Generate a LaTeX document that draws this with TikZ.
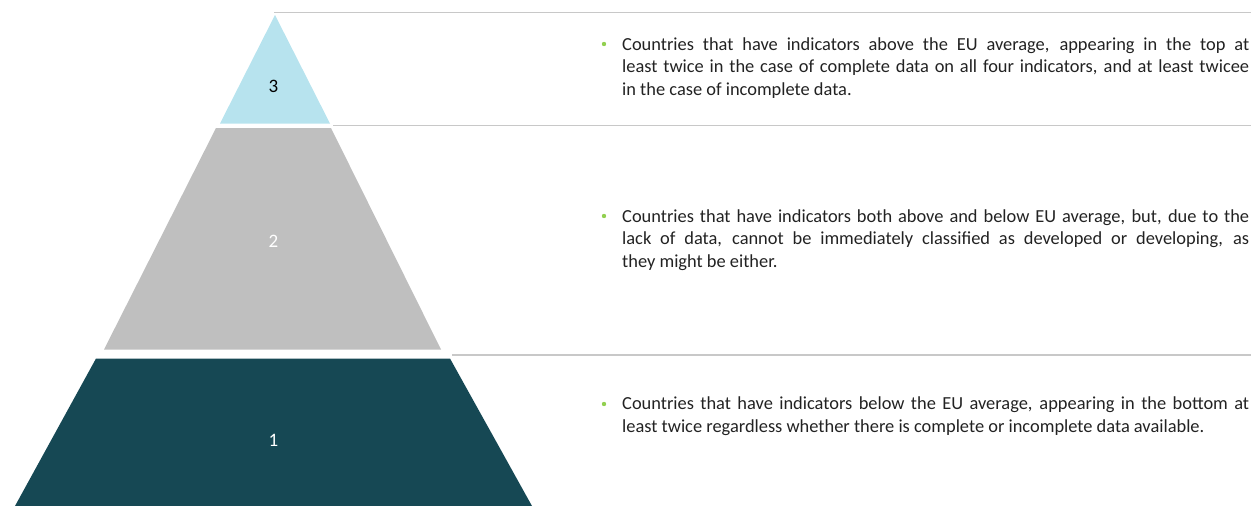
\documentclass[tikz,border=0pt]{standalone}
\usepackage{fontspec}
\setmainfont{Carlito}
\definecolor{tierTop}{HTML}{B7E3EE}
\definecolor{tierMid}{HTML}{BFBFBF}
\definecolor{tierBase}{HTML}{164854}
\definecolor{rule}{HTML}{C8C8C8}
\definecolor{bulletgreen}{HTML}{92D050}
\definecolor{bodytext}{HTML}{222222}
\begin{document}
\begin{tikzpicture}[x=1pt,y=-1pt,
  tier/.style={draw=none},
  tierlabel/.style={font=\fontsize{19}{22}\selectfont, inner sep=0pt},
  separator/.style={draw=rule, line width=1.4pt},
  bulletdot/.style={circle, fill=bulletgreen, inner sep=0pt, minimum size=4.4pt},
  desc/.style={anchor=base west, inner sep=0pt, text=bodytext}
]
\useasboundingbox (0,0) rectangle (1251,506);

% pyramid tiers
\fill[tier, tierTop]  (275,15) -- (330,123.5) -- (220,123.5) -- cycle;
\fill[tier, tierMid]  (216,128) -- (331,128) -- (441,349.5) -- (104,349.5) -- cycle;
\fill[tier, tierBase] (96,358.5) -- (450,358.5) -- (532,506) -- (15,506) -- cycle;

\node[tierlabel, text=black] (lab3) at (273.5,86.5) {3};
\node[tierlabel, text=white] (lab2) at (273.5,241.5) {2};
\node[tierlabel, text=white] (lab1) at (273.5,440) {1};

% separators between the levels
\coordinate (s1a) at (274,12.7);   \coordinate (s1b) at (1251,12.7);
\coordinate (s2a) at (333,125.5);  \coordinate (s2b) at (1251,125.5);
\coordinate (s3a) at (452,355);    \coordinate (s3b) at (1251,355);
\draw[separator] (s1a) -- (s1b);
\draw[separator] (s2a) -- (s2b);
\draw[separator] (s3a) -- (s3b);

% descriptions
\node[bulletdot] (b3) at (604,44) {};
\node[desc] (d3) at (622,50) {\parbox[t]{627pt}{\fontsize{18.4}{22.5}\selectfont
Countries that have indicators above the EU average, appearing in the top at\linebreak
least twice in the case of complete data on all four indicators, and at least twicee\linebreak
in the case of incomplete data.}};

\node[bulletdot] (b2) at (604,216) {};
\node[desc] (d2) at (622,222) {\parbox[t]{627pt}{\fontsize{18.4}{22.5}\selectfont
Countries that have indicators both above and below EU average, but, due to the\linebreak
lack of data, cannot be immediately classified as developed or developing, as\linebreak
they might be either.}};

\node[bulletdot] (b1) at (604,404) {};
\node[desc] (d1) at (622,409.5) {\parbox[t]{627pt}{\fontsize{18.4}{22.5}\selectfont
Countries that have indicators below the EU average, appearing in the bottom at\linebreak
least twice regardless whether there is complete or incomplete data available.}};
\end{tikzpicture}
\end{document}
